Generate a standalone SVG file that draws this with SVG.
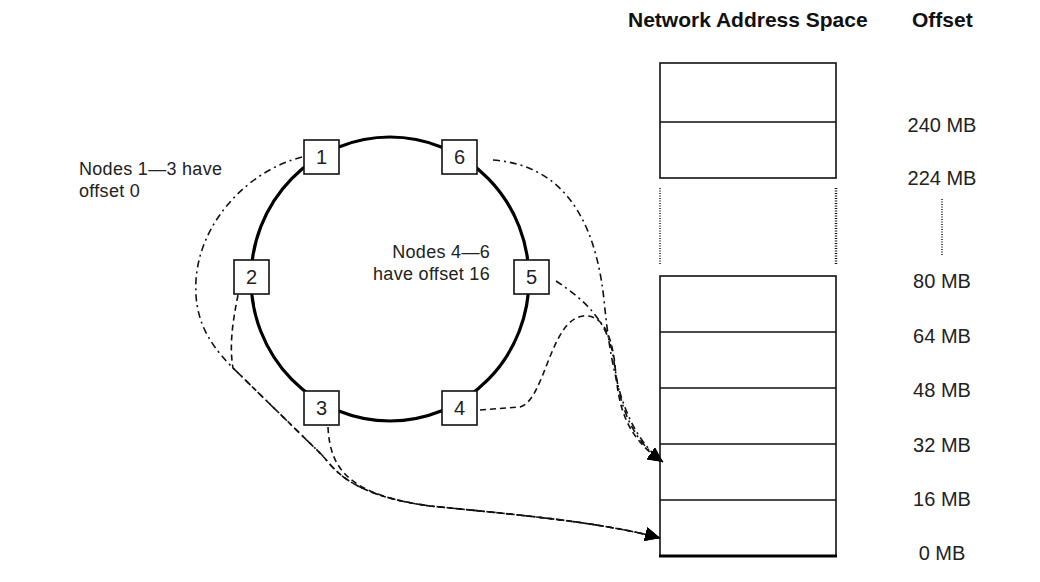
<svg xmlns="http://www.w3.org/2000/svg" width="1040" height="582" viewBox="0 0 1040 582">
<style>
  .lbl{font-family:"Liberation Sans",Arial,sans-serif;font-size:18px;letter-spacing:0.3px;fill:#222}
  .hdr{font-family:"Liberation Sans",Arial,sans-serif;font-size:21px;font-weight:bold;fill:#111}
  .mb{font-family:"Liberation Sans",Arial,sans-serif;font-size:20px;fill:#222;text-anchor:middle}
  .num{font-family:"Liberation Sans",Arial,sans-serif;font-size:20px;fill:#222;text-anchor:middle}
  .box{fill:#fff;stroke:#111;stroke-width:1.6}
  .cell{fill:none;stroke:#111;stroke-width:1.6}
  .dot{fill:none;stroke:#111;stroke-width:1.5;stroke-dasharray:1 1.5}
  .con{fill:none;stroke:#111;stroke-width:1.6}
  .dash{stroke-dasharray:6 4}
  .dd{stroke-dasharray:7 4 2 4}
</style>
<defs>
  <marker id="arr" markerUnits="userSpaceOnUse" markerWidth="18" markerHeight="16" refX="15" refY="7" orient="auto">
    <path d="M0,0 L15,7 L0,14 z" fill="#000"/>
  </marker>
</defs>
<rect width="1040" height="582" fill="#fff"/>

<g id="ring">
  <ellipse cx="390" cy="279" rx="139" ry="142" fill="none" stroke="#000" stroke-width="3.2"/>
</g>

<g id="connectors">
  <path class="con dd" d="M302,157 C250,170 200,220 196,280 C194,315 205,340 233,368 L322,455 C335,470 350,495 430,506 C520,515 600,522 660,538" marker-end="url(#arr)"/>
  <path class="con dash" d="M238,295 C233,320 229,345 233,368 L322,455 C335,470 350,495 430,506 C520,515 600,522 660,538" marker-end="url(#arr)"/>
  <path class="con dash" d="M328,427 C330,470 350,495 430,506 C520,515 600,522 660,538" marker-end="url(#arr)"/>
  <path class="con dd" d="M493,160 C560,165 595,215 604,300 C610,360 620,430 663,462" marker-end="url(#arr)"/>
  <path class="con dd" d="M556,281 C585,300 605,320 612,350 C618,380 618,430 663,462" marker-end="url(#arr)"/>
  <path class="con dash" d="M480,410 L520,407 C545,400 550,320 583,316 C605,314 612,340 615,365 C618,400 622,435 663,462" marker-end="url(#arr)"/>
</g>

<g id="node1"><rect class="box" x="304" y="140" width="35" height="34"/><text class="num" x="321.5" y="164">1</text></g>
<g id="node2"><rect class="box" x="234" y="260" width="35" height="34"/><text class="num" x="251.5" y="284">2</text></g>
<g id="node3"><rect class="box" x="304" y="391" width="35" height="34"/><text class="num" x="321.5" y="415">3</text></g>
<g id="node4"><rect class="box" x="442" y="391" width="35" height="34"/><text class="num" x="459.5" y="415">4</text></g>
<g id="node5"><rect class="box" x="514" y="260" width="35" height="34"/><text class="num" x="531.5" y="284">5</text></g>
<g id="node6"><rect class="box" x="442" y="140" width="35" height="34"/><text class="num" x="459.5" y="164">6</text></g>

<g id="label-left">
  <text class="lbl" x="79" y="175">Nodes 1—3 have</text>
  <text class="lbl" x="79" y="197">offset 0</text>
</g>
<g id="label-right">
  <text class="lbl" x="490" y="258" text-anchor="end">Nodes 4—6</text>
  <text class="lbl" x="490" y="280" text-anchor="end">have offset 16</text>
</g>

<g id="address-space">
  <text class="hdr" x="628" y="27">Network Address Space</text>
  <rect class="cell" x="660" y="63" width="176" height="115"/>
  <line class="cell" x1="660" y1="122" x2="836" y2="122"/>
  <line class="dot" x1="660" y1="188" x2="660" y2="265"/>
  <line class="dot" x1="836" y1="188" x2="836" y2="265" style="stroke-width:2.5"/>
  <rect class="cell" x="660" y="276" width="176" height="280"/>
  <line class="cell" x1="660" y1="332" x2="836" y2="332"/>
  <line class="cell" x1="660" y1="388" x2="836" y2="388"/>
  <line class="cell" x1="660" y1="444" x2="836" y2="444"/>
  <line class="cell" x1="660" y1="500" x2="836" y2="500"/>
  <line x1="659" y1="556" x2="837" y2="556" stroke="#000" stroke-width="3"/>
</g>

<g id="offsets">
  <text class="hdr" x="912" y="27">Offset</text>
  <text class="mb" x="942" y="132">240 MB</text>
  <text class="mb" x="942" y="185">224 MB</text>
  <line class="dot" x1="942" y1="199" x2="942" y2="255"/>
  <text class="mb" x="942" y="288">80 MB</text>
  <text class="mb" x="942" y="343">64 MB</text>
  <text class="mb" x="942" y="397">48 MB</text>
  <text class="mb" x="942" y="452">32 MB</text>
  <text class="mb" x="942" y="506">16 MB</text>
  <text class="mb" x="942" y="560">0 MB</text>
</g>
</svg>
